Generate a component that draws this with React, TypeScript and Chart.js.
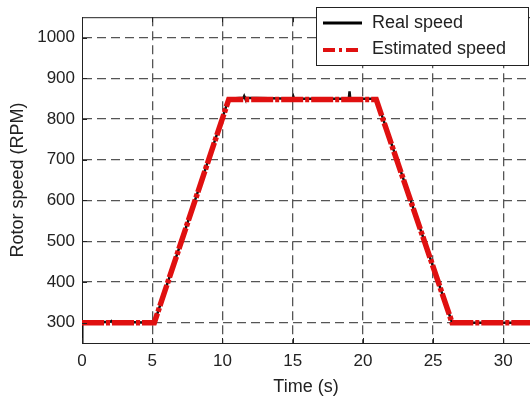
import React, { useEffect, useRef } from "react";
import { Chart, registerables } from "chart.js";

Chart.register(...registerables);

const realTime = [0, 0.02, 2.0, 2.1, 2.2, 5.15, 10.45, 11.5, 11.55, 11.6, 15.0, 15.05, 15.1, 19.0, 19.05, 19.1, 20.95, 26.35, 32];
const realSpeed = [252, 300, 302, 304, 302, 300, 850, 852, 856, 852, 850, 855, 850, 850, 868, 850, 850, 300, 300];
const estTime = [0, 5.15, 10.45, 20.95, 26.35, 32];
const estSpeed = [300, 300, 848, 848, 300, 300];
const xTicks = [0, 5, 10, 15, 20, 25, 30];
const yTicks = [300, 400, 500, 600, 700, 800, 900, 1000];
const legendLabels = ["Real speed", "Estimated speed"];

const FONT = "'Liberation Sans', Arial, sans-serif";

const overlay = {
  id: "overlay",
  afterDraw(chart: any) {
    const ctx = chart.ctx;
    const a = chart.chartArea;
    const xs = chart.scales.x;
    const ys = chart.scales.y;
    ctx.save();
    ctx.setLineDash([]);
    ctx.strokeStyle = "#222";
    ctx.lineWidth = 1;
    ctx.beginPath();
    ctx.moveTo(a.left, a.top + 0.5);
    ctx.lineTo(a.right, a.top + 0.5);
    ctx.stroke();
    ctx.beginPath();
    xTicks.forEach((t) => {
      const px = Math.round(xs.getPixelForValue(t)) + 0.5;
      ctx.moveTo(px, a.bottom);
      ctx.lineTo(px, a.bottom - 5);
      ctx.moveTo(px, a.top);
      ctx.lineTo(px, a.top + 5);
    });
    yTicks.forEach((v) => {
      const py = Math.round(ys.getPixelForValue(v)) + 0.5;
      ctx.moveTo(a.left, py);
      ctx.lineTo(a.left + 5, py);
    });
    ctx.stroke();
    // legend
    const bx = 316, by = 7, bw = 212, bh = 58;
    ctx.fillStyle = "#fff";
    ctx.fillRect(bx, by, bw, bh);
    ctx.strokeStyle = "#222";
    ctx.strokeRect(bx + 0.5, by + 0.5, bw, bh);
    ctx.lineWidth = 3;
    ctx.strokeStyle = "#000";
    ctx.beginPath();
    ctx.moveTo(323, 23);
    ctx.lineTo(362, 23);
    ctx.stroke();
    ctx.strokeStyle = "#e01010";
    ctx.lineWidth = 4;
    ctx.setLineDash([12, 4, 3, 4]);
    ctx.beginPath();
    ctx.moveTo(323, 50);
    ctx.lineTo(362, 50);
    ctx.stroke();
    ctx.setLineDash([]);
    ctx.fillStyle = "#222";
    ctx.font = `18px ${FONT}`;
    ctx.textBaseline = "middle";
    ctx.textAlign = "left";
    ctx.fillText(legendLabels[0], 372, 23);
    ctx.fillText(legendLabels[1], 372, 49);
    ctx.restore();
  },
};

export default function App() {
  const ref = useRef<HTMLCanvasElement>(null);
  useEffect(() => {
    if (!ref.current) return;
    const chart = new Chart(ref.current, {
      type: "line",
      data: {
        datasets: [
          {
            label: legendLabels[1],
            data: estTime.map((t, i) => ({ x: t, y: estSpeed[i] })),
            borderColor: "#e01010",
            borderWidth: 5.5,
            borderDash: [22, 2, 4, 2],
            pointRadius: 0,
            tension: 0,
            order: 1,
          },
          {
            label: legendLabels[0],
            data: realTime.map((t, i) => ({ x: t, y: realSpeed[i] })),
            borderColor: "#111",
            borderWidth: 2.5,
            pointRadius: 0,
            tension: 0,
            order: 2,
          },
        ],
      },
      options: {
        responsive: false,
        animation: false,
        layout: { padding: { top: 5, right: 0, left: 0, bottom: 0 } },
        plugins: { legend: { display: false }, tooltip: { enabled: false } },
        scales: {
          x: {
            type: "linear",
            min: 0,
            max: 31.9,
            afterBuildTicks: (s: any) => {
              s.ticks = xTicks.map((v) => ({ value: v }));
            },
            afterFit: (s: any) => {
              s.height = 55;
            },
            grid: {
              color: (c: any) => (c.tick && c.tick.value === 0 ? "rgba(0,0,0,0)" : "#555"),
              lineWidth: 1.3,
              drawTicks: false,
            },
            border: { display: true, color: "#222", width: 1, dash: [9, 5] },
            ticks: {
              padding: 8,
              color: "#222",
              font: { family: FONT, size: 17 },
              maxRotation: 0,
              callback: (v: any) => String(v),
            },
            title: {
              display: true,
              text: "Time (s)",
              color: "#222",
              font: { family: FONT, size: 18 },
              padding: { top: 0, bottom: 0 },
            },
          },
          y: {
            min: 250,
            max: 1050,
            afterBuildTicks: (s: any) => {
              s.ticks = yTicks.map((v) => ({ value: v }));
            },
            afterFit: (s: any) => {
              s.width = 82;
            },
            grid: {
              color: "#555",
              lineWidth: 1.3,
              drawTicks: false,
            },
            border: { display: true, color: "#222", width: 1, dash: [9, 5] },
            ticks: {
              padding: 7,
              color: "#222",
              font: { family: FONT, size: 17 },
              callback: (v: any) => String(v),
            },
            title: {
              display: true,
              text: "Rotor speed (RPM)",
              color: "#222",
              font: { family: FONT, size: 18 },
              padding: { top: 7, bottom: 0 },
            },
          },
        },
      },
      plugins: [overlay],
    } as any);
    return () => chart.destroy();
  }, []);
  return (
    <div style={{ position: "absolute", left: 0, top: 0, width: 530, height: 398, background: "#fff" }}>
      <canvas ref={ref} width={530} height={398} />
    </div>
  );
}
